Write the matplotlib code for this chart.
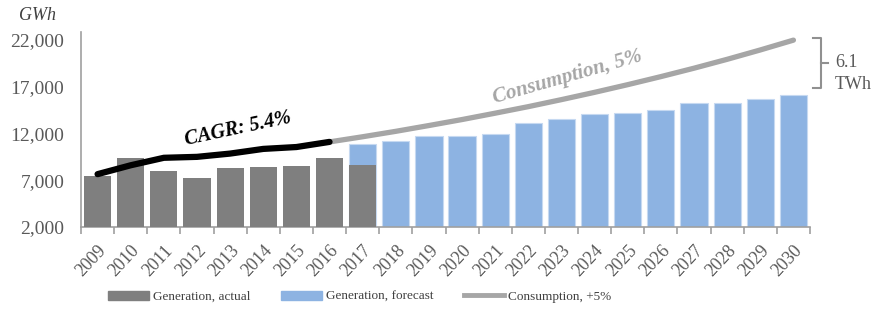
import numpy as np
import matplotlib
matplotlib.use("Agg")
import matplotlib.pyplot as plt
from matplotlib.patches import Patch
from matplotlib.lines import Line2D

plt.rcParams['font.family'] = ['Liberation Serif', 'DejaVu Serif']

years = list(range(2009, 2031))
# generation actual (GWh), 2009-2017
gen_actual = [7450, 9400, 8000, 7250, 8300, 8400, 8500, 9400, 8650]
# generation forecast (GWh), 2017-2030
gen_forecast = [10900, 11200, 11750, 11750, 11950, 13100, 13550, 14100,
                14200, 14500, 15250, 15300, 15700, 16100]
# black trend line on actual, 2009-2016
trend_actual = [7650, 8600, 9400, 9500, 9850, 10350, 10550, 11100]
# consumption +5%, 2016-2030
consumption = [11100, 11650, 12230, 12850, 13490, 14170, 14870, 15620,
               16400, 17220, 18080, 18980, 19930, 20930, 21980]

GRAY = '#7f7f7f'
BLUE = '#8db3e2'
LGRAY = '#a6a6a6'
TXT = '#595959'

fig = plt.figure(figsize=(8.86, 3.12), dpi=100)
ax = fig.add_axes([81 / 886, 1 - 227 / 312, 729 / 886, 195 / 312])

x = np.arange(len(years))
n_act = len(gen_actual)
x_fc = x[n_act - 1:]
x_act = x[:n_act]

ax.bar(x_fc, gen_forecast, width=0.82, bottom=0, color=BLUE,
       edgecolor='#c6d9f1', linewidth=0.8, zorder=2)
ax.bar(x_act, gen_actual, width=0.82, bottom=0, color=GRAY,
       edgecolor='none', zorder=3)

ax.plot(x[7:], consumption, color=LGRAY, lw=3.8, solid_capstyle='round', zorder=4)
ax.plot(x[:8], trend_actual, color='black', lw=4.5, solid_capstyle='round', zorder=5)

ax.set_xlim(-0.5, len(years) - 0.5)
ax.set_ylim(2000, 22850)
ax.set_yticks([2000, 7000, 12000, 17000, 22000])
ax.set_yticklabels(['2,000', '7,000', '12,000', '17,000', '22,000'])
ax.set_xticks(x)
ax.set_xticklabels([str(y) for y in years], rotation=47, ha='right',
                   rotation_mode='anchor')
ax.set_xticks(np.arange(-0.5, len(years)), minor=True)
ax.tick_params(axis='x', which='major', length=0, pad=11, labelsize=13,
               labelcolor=TXT)
ax.tick_params(axis='x', which='minor', length=5, width=1.2, color='#a0a0a0')
ax.tick_params(axis='y', length=0, pad=12, labelsize=14, labelcolor=TXT)

for s in ['top', 'right']:
    ax.spines[s].set_visible(False)
for s in ['left', 'bottom']:
    ax.spines[s].set_color('#a0a0a0')
    ax.spines[s].set_linewidth(1.2)

fig.text(38 / 886, 1 - 16 / 312, 'GWh', fontsize=13, style='italic',
         color='#404040', ha='center', va='center')

fig.text(238 / 886, 1 - 129 / 312, 'CAGR: 5.4%', fontsize=14.5, style='italic',
         weight='bold', color='black', rotation=12, ha='center', va='center')
fig.text(568 / 886, 1 - 77 / 312, 'Consumption, 5%', fontsize=15, style='italic',
         weight='bold', color=LGRAY, rotation=16, ha='center', va='center')

# bracket for the gap
bx0, bx1 = 813 / 886, 821 / 886
yt, yb, ym = 1 - 38 / 312, 1 - 88 / 312, 1 - 63 / 312
fig.add_artist(Line2D([bx0, bx1, bx1, bx0], [yt, yt, yb, yb],
                      transform=fig.transFigure, color='#909090', lw=1.5))
fig.add_artist(Line2D([bx1, 828 / 886], [ym, ym],
                      transform=fig.transFigure, color='#909090', lw=1.5))
fig.text(835 / 886, 1 - 63 / 312, '6.1', fontsize=13, color=TXT,
         ha='left', va='center')
fig.text(835 / 886, 1 - 85 / 312, 'TWh', fontsize=13, color=TXT,
         ha='left', va='center')

handles = [Patch(color=GRAY), Patch(color=BLUE),
           Line2D([], [], color=LGRAY, lw=3.5)]
labels = ['Generation, actual', 'Generation, forecast', 'Consumption, +5%']
fig.legend(handles, labels, loc='center', bbox_to_anchor=(360 / 886, 1 - 297 / 312),
           ncol=3, frameon=False, fontsize=9.5, handlelength=3.1, handleheight=0.75,
           handletextpad=0.3, columnspacing=2.3, labelcolor='#404040')

fig.savefig('out.png', dpi=100)
